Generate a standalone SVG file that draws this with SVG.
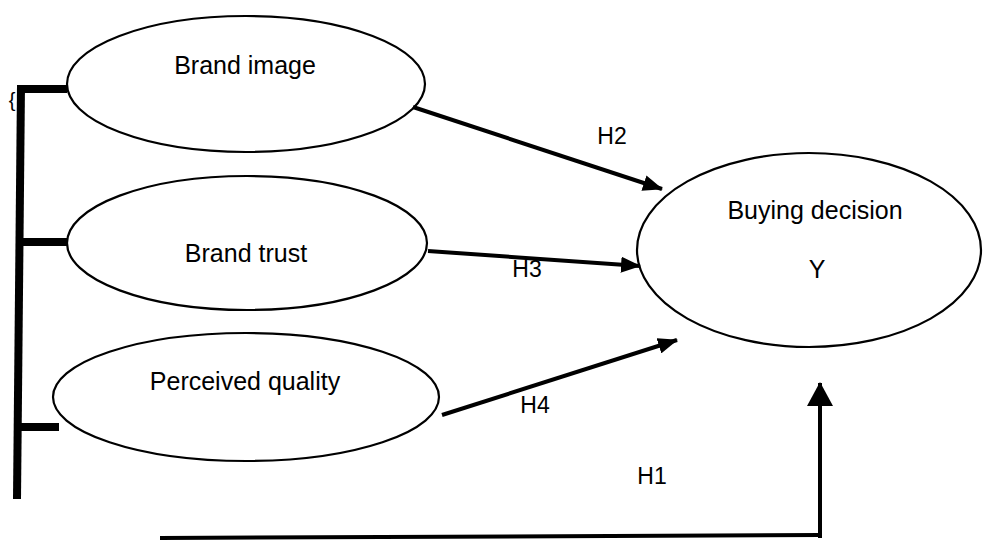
<svg xmlns="http://www.w3.org/2000/svg" width="983" height="541" viewBox="0 0 983 541">
  <style>
    .node ellipse { fill: #fff; stroke: #000; stroke-width: 2.2; }
    .label { font-family: "Liberation Sans", Arial, sans-serif; font-size: 25px; fill: #000; text-anchor: middle; }
    .hyp { font-family: "Liberation Sans", Arial, sans-serif; font-size: 23px; fill: #000; text-anchor: middle; }
    .link { stroke: #000; stroke-width: 4; fill: none; }
    .bar { stroke: #000; stroke-width: 8; fill: none; }
  </style>
  <defs>
    <marker id="head" markerUnits="userSpaceOnUse" markerWidth="20" markerHeight="16" refX="19" refY="8" orient="auto">
      <path d="M0,0 L20,8 L0,16 z" fill="#000"/>
    </marker>
    <marker id="headBig" markerUnits="userSpaceOnUse" markerWidth="24" markerHeight="26" refX="23" refY="13" orient="auto">
      <path d="M0,0 L24,13 L0,26 z" fill="#000"/>
    </marker>
  </defs>

  <!-- grouping bracket on the left -->
  <g id="bracket">
    <path class="bar" d="M21,85 L17,499"/>
    <path class="bar" d="M17,89 L67,89"/>
    <path class="bar" d="M19,242 L73,242"/>
    <path class="bar" d="M20,427 L59,427"/>
    <text x="12" y="107" font-family="Liberation Sans, Arial, sans-serif" font-size="20" text-anchor="middle">{</text>
  </g>

  <g id="brand-image" class="node">
    <ellipse cx="246" cy="84" rx="179" ry="68"/>
    <text class="label" x="245" y="74">Brand image</text>
  </g>

  <g id="brand-trust" class="node">
    <ellipse cx="247" cy="243" rx="180" ry="67"/>
    <text class="label" x="246" y="262">Brand trust</text>
  </g>

  <g id="perceived-quality" class="node">
    <ellipse cx="246" cy="397" rx="193" ry="64"/>
    <text class="label" x="245" y="390">Perceived quality</text>
  </g>

  <g id="buying-decision" class="node">
    <ellipse cx="809" cy="250" rx="172" ry="97"/>
    <text class="label" x="815" y="219">Buying decision</text>
    <text class="label" x="817" y="278">Y</text>
  </g>

  <g id="connectors">
    <path class="link" d="M413,107 L662,189" marker-end="url(#head)"/>
    <text class="hyp" x="612" y="144">H2</text>
    <path class="link" d="M428,251 L640,266" marker-end="url(#head)"/>
    <text class="hyp" x="527" y="277">H3</text>
    <path class="link" d="M442,415 L677,340" marker-end="url(#head)"/>
    <text class="hyp" x="535" y="413">H4</text>
    <path class="link" d="M160,538 L820,535" stroke-width="5"/>
    <path class="link" d="M820,538 L820,383" stroke-width="7" marker-end="url(#headBig)"/>
    <text class="hyp" x="652" y="484">H1</text>
  </g>
</svg>
